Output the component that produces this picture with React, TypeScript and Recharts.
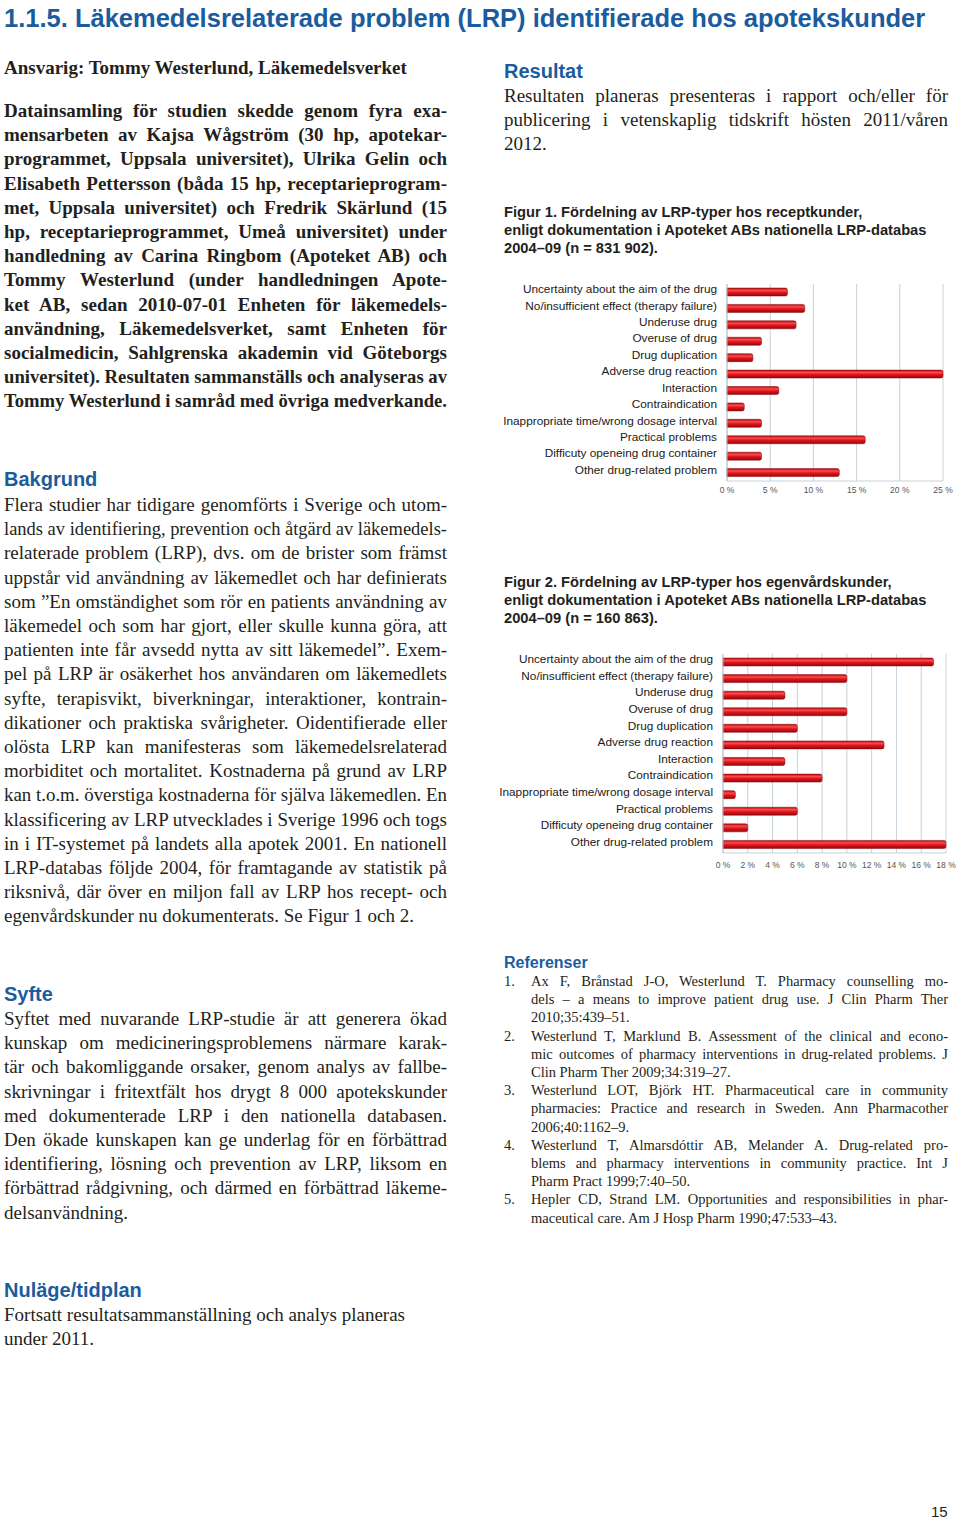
import React, { useLayoutEffect, useRef, useState } from "react";
import { BarChart, Bar, XAxis, YAxis, CartesianGrid } from "recharts";

const LRP_TYPES = [
  "Uncertainty about the aim of the drug",
  "No/insufficient effect (therapy failure)",
  "Underuse drug",
  "Overuse of drug",
  "Drug duplication",
  "Adverse drug reaction",
  "Interaction",
  "Contraindication",
  "Inappropriate time/wrong dosage interval",
  "Practical problems",
  "Difficuty openeing drug container",
  "Other drug-related problem",
];

// share of LRP, %
const RX_SHARES = [7, 9, 8, 4, 3, 25, 6, 2, 4, 16, 4, 13];
const OTC_SHARES = [17, 10, 5, 10, 6, 13, 5, 8, 1, 6, 2, 18];

const RX_TICKS = [0, 5, 10, 15, 20, 25];
const OTC_TICKS = [0, 2, 4, 6, 8, 10, 12, 14, 16, 18];

const TITLE = "1.1.5. Läkemedelsrelaterade problem (LRP) identifierade hos apotekskunder";
const RESPONSIBLE = "Ansvarig: Tommy Westerlund, Läkemedelsverket";

const DATA_LINES = [
  "Datainsamling för studien skedde genom fyra exa-",
  "mensarbeten av Kajsa Wågström (30 hp, apotekar-",
  "programmet, Uppsala universitet), Ulrika Gelin och",
  "Elisabeth Pettersson (båda 15 hp, receptarieprogram-",
  "met, Uppsala universitet) och Fredrik Skärlund (15",
  "hp, receptarieprogrammet, Umeå universitet) under",
  "handledning av Carina Ringbom (Apoteket AB) och",
  "Tommy Westerlund (under handledningen Apote-",
  "ket AB, sedan 2010-07-01 Enheten för läkemedels-",
  "användning, Läkemedelsverket, samt Enheten för",
  "socialmedicin, Sahlgrenska akademin vid Göteborgs",
  "universitet). Resultaten sammanställs och analyseras av",
  "Tommy Westerlund i samråd med övriga medverkande.",
];

const BAKGRUND_LINES = [
  "Flera studier har tidigare genomförts i Sverige och utom-",
  "lands av identifiering, prevention och åtgärd av läkemedels-",
  "relaterade problem (LRP), dvs. om de brister som främst",
  "uppstår vid användning av läkemedlet och har definierats",
  "som ”En omständighet som rör en patients användning av",
  "läkemedel och som har gjort, eller skulle kunna göra, att",
  "patienten inte får avsedd nytta av sitt läkemedel”. Exem-",
  "pel på LRP är osäkerhet hos användaren om läkemedlets",
  "syfte, terapisvikt, biverkningar, interaktioner, kontrain-",
  "dikationer och praktiska svårigheter. Oidentifierade eller",
  "olösta LRP kan manifesteras som läkemedelsrelaterad",
  "morbiditet och mortalitet. Kostnaderna på grund av LRP",
  "kan t.o.m. överstiga kostnaderna för själva läkemedlen. En",
  "klassificering av LRP utvecklades i Sverige 1996 och togs",
  "in i IT-systemet på landets alla apotek 2001. En nationell",
  "LRP-databas följde 2004, för framtagande av statistik på",
  "riksnivå, där över en miljon fall av LRP hos recept- och",
  "egenvårdskunder nu dokumenterats. Se Figur 1 och 2.",
];

const SYFTE_LINES = [
  "Syftet med nuvarande LRP-studie är att generera ökad",
  "kunskap om medicineringsproblemens närmare karak-",
  "tär och bakomliggande orsaker, genom analys av fallbe-",
  "skrivningar i fritextfält hos drygt 8 000 apotekskunder",
  "med dokumenterade LRP i den nationella databasen.",
  "Den ökade kunskapen kan ge underlag för en förbättrad",
  "identifiering, lösning och prevention av LRP, liksom en",
  "förbättrad rådgivning, och därmed en förbättrad läkeme-",
  "delsanvändning.",
];

const NULAGE_LINES = [
  "Fortsatt resultatsammanställning och analys planeras",
  "under 2011.",
];

const RESULTAT_LINES = [
  "Resultaten planeras presenteras i rapport och/eller för",
  "publicering i vetenskaplig tidskrift hösten 2011/våren",
  "2012.",
];

const FIG1_CAPTION = [
  "Figur 1. Fördelning av LRP-typer hos receptkunder,",
  "enligt dokumentation i Apoteket ABs nationella LRP-databas",
  "2004–09 (n = 831 902).",
];

const FIG2_CAPTION = [
  "Figur 2. Fördelning av LRP-typer hos egenvårdskunder,",
  "enligt dokumentation i Apoteket ABs nationella LRP-databas",
  "2004–09 (n = 160 863).",
];

const REFERENCES = [
  [
    "Ax F, Brånstad J-O, Westerlund T. Pharmacy counselling mo-",
    "dels – a means to improve patient drug use. J Clin Pharm Ther",
    "2010;35:439–51.",
  ],
  [
    "Westerlund T, Marklund B. Assessment of the clinical and econo-",
    "mic outcomes of pharmacy interventions in drug-related problems. J",
    "Clin Pharm Ther 2009;34:319–27.",
  ],
  [
    "Westerlund LOT, Björk HT. Pharmaceutical care in community",
    "pharmacies: Practice and research in Sweden. Ann Pharmacother",
    "2006;40:1162–9.",
  ],
  [
    "Westerlund T, Almarsdóttir AB, Melander A. Drug-related pro-",
    "blems and pharmacy interventions in community practice. Int J",
    "Pharm Pract 1999;7:40–50.",
  ],
  [
    "Hepler CD, Strand LM. Opportunities and responsibilities in phar-",
    "maceutical care. Am J Hosp Pharm 1990;47:533–43.",
  ],
];

const BLUE = "#1b5c9e";
const INK = "#231f20";
const SERIF = '"Liberation Serif", "DejaVu Serif", serif';
const SANS = '"Liberation Sans", Arial, sans-serif';
const BODY = 19;

// one typeset line: justified to the column, squeezed if it would overflow
function Line({ text, width, justify }: { text: string; width: number; justify: boolean }) {
  const ref = useRef<HTMLSpanElement>(null);
  const [scale, setScale] = useState<number | null>(null);

  useLayoutEffect(() => {
    if (!ref.current) return;
    const w = ref.current.getBoundingClientRect().width;
    setScale(w > width ? width / w : 1);
  }, [text, width]);

  if (scale === null) {
    return (
      <div>
        <span ref={ref} style={{ whiteSpace: "nowrap" }}>{text}</span>
      </div>
    );
  }
  if (scale < 1) {
    return (
      <div
        style={{
          whiteSpace: "nowrap",
          width: width / scale,
          transform: `scaleX(${scale})`,
          transformOrigin: "left center",
        }}
      >
        {text}
      </div>
    );
  }
  return (
    <div
      style={{
        whiteSpace: "nowrap",
        width,
        textAlign: justify ? "justify" : "left",
        textAlignLast: justify ? "justify" : "auto",
      }}
    >
      {text}
    </div>
  );
}

function Para({
  lines,
  left,
  top,
  width,
  size,
  lineHeight,
  bold = false,
  justifyLast = false,
  justify = true,
  font = SERIF,
}: {
  lines: string[];
  left: number;
  top: number;
  width: number;
  size: number;
  lineHeight: number;
  bold?: boolean;
  justifyLast?: boolean;
  justify?: boolean;
  font?: string;
}) {
  return (
    <div
      style={{
        position: "absolute",
        left,
        top,
        width,
        fontFamily: font,
        fontSize: size,
        lineHeight: `${lineHeight}px`,
        fontWeight: bold ? 700 : 400,
        color: INK,
      }}
    >
      {lines.map((l, i) => (
        <Line
          key={i}
          text={l}
          width={width}
          justify={justify && (i < lines.length - 1 || justifyLast)}
        />
      ))}
    </div>
  );
}

function Heading({ text, left, top, size }: { text: string; left: number; top: number; size: number }) {
  return (
    <div
      style={{
        position: "absolute",
        left,
        top,
        fontFamily: SANS,
        fontWeight: 700,
        fontSize: size,
        lineHeight: "24px",
        color: BLUE,
        whiteSpace: "nowrap",
      }}
    >
      {text}
    </div>
  );
}

function CategoryTick({ x, y, payload }: { x?: number; y?: number; payload?: { value: string } }) {
  return (
    <text
      x={x}
      y={y}
      dy={1}
      textAnchor="end"
      fontSize={11.8}
      fill="#1a1a1a"
      fontFamily={SANS}
    >
      {payload?.value}
    </text>
  );
}

function LrpChart({
  values,
  ticks,
  left,
  top,
  height,
  yWidth,
  rightPad,
  tickGap,
  gradId,
}: {
  values: number[];
  ticks: number[];
  left: number;
  top: number;
  height: number;
  yWidth: number;
  rightPad: number;
  tickGap: number;
  gradId: string;
}) {
  const data = LRP_TYPES.map((name, i) => ({ name, value: values[i] }));
  const max = ticks[ticks.length - 1];

  return (
    <div style={{ position: "absolute", left, top }}>
      <BarChart
        width={460}
        height={height}
        data={data}
        layout="vertical"
        margin={{ top: 8, right: rightPad, bottom: 0, left: 0 }}
        barCategoryGap={0}
      >
        <defs>
          <linearGradient id={gradId} x1="0" y1="0" x2="0" y2="1">
            <stop offset="0%" stopColor="#a80c12" />
            <stop offset="30%" stopColor="#ff4a4a" />
            <stop offset="55%" stopColor="#e3151d" />
            <stop offset="100%" stopColor="#8c0a0e" />
          </linearGradient>
        </defs>
        <CartesianGrid horizontal={false} stroke="#c6d2da" />
        <XAxis
          type="number"
          domain={[0, max]}
          ticks={ticks}
          interval={0}
          tickFormatter={(v: number) => `${v} %`}
          height={24}
          tickLine={false}
          tickSize={0}
          tickMargin={tickGap}
          axisLine={{ stroke: "#c6d2da" }}
          tick={{ fontSize: 8.5, fill: "#555", fontFamily: SANS }}
        />
        <YAxis
          type="category"
          dataKey="name"
          width={yWidth}
          interval={0}
          tickLine={false}
          tickSize={6}
          tickMargin={4}
          axisLine={{ stroke: "#b7c4cd" }}
          tick={<CategoryTick />}
        />
        <Bar
          dataKey="value"
          fill={`url(#${gradId})`}
          stroke="#8a0a0e"
          strokeWidth={0.5}
          barSize={8}
          radius={[0, 2, 2, 0]}
          isAnimationActive={false}
        />
      </BarChart>
    </div>
  );
}

export default function App() {
  return (
    <div
      style={{
        position: "absolute",
        left: 0,
        top: 0,
        width: 960,
        height: 1519,
        background: "#fff",
        overflow: "hidden",
      }}
    >
      <div
        style={{
          position: "absolute",
          left: 4,
          top: 3,
          fontFamily: SANS,
          fontWeight: 700,
          fontSize: 25.5,
          lineHeight: "30px",
          color: BLUE,
          whiteSpace: "nowrap",
        }}
      >
        {TITLE}
      </div>

      {/* left column */}
      <Para lines={[RESPONSIBLE]} left={4} top={56} width={443} size={BODY} lineHeight={24.2} bold justify={false} />
      <Para lines={DATA_LINES} left={4} top={99} width={443} size={BODY} lineHeight={24.2} bold justifyLast />

      <Heading text="Bakgrund" left={4} top={467} size={20} />
      <Para lines={BAKGRUND_LINES} left={4} top={493} width={443} size={BODY} lineHeight={24.2} />

      <Heading text="Syfte" left={4} top={982} size={20} />
      <Para lines={SYFTE_LINES} left={4} top={1007} width={443} size={BODY} lineHeight={24.2} />

      <Heading text="Nuläge/tidplan" left={4} top={1278} size={20} />
      <Para lines={NULAGE_LINES} left={4} top={1303} width={443} size={BODY} lineHeight={24.2} justify={false} />

      {/* right column */}
      <Heading text="Resultat" left={504} top={59} size={20} />
      <Para lines={RESULTAT_LINES} left={504} top={84} width={444} size={BODY} lineHeight={24.2} />

      <Para lines={FIG1_CAPTION} left={504} top={203} width={440} size={14.7} lineHeight={18} bold justify={false} font={SANS} />
      <LrpChart values={RX_SHARES} ticks={RX_TICKS} left={500} top={276} height={229} yWidth={227} rightPad={17} tickGap={6} gradId="rxGrad" />

      <Para lines={FIG2_CAPTION} left={504} top={573} width={440} size={14.7} lineHeight={18} bold justify={false} font={SANS} />
      <LrpChart values={OTC_SHARES} ticks={OTC_TICKS} left={500} top={646} height={231} yWidth={223} rightPad={14} tickGap={9} gradId="otcGrad" />

      <div
        style={{
          position: "absolute",
          left: 504,
          top: 954,
          fontFamily: SANS,
          fontWeight: 700,
          fontSize: 16,
          lineHeight: "18px",
          color: BLUE,
        }}
      >
        Referenser
      </div>
      {REFERENCES.map((ref, i) => {
        const top = 972 + REFERENCES.slice(0, i).reduce((n, r) => n + r.length, 0) * 18.2;
        return (
          <React.Fragment key={i}>
            <div
              style={{
                position: "absolute",
                left: 504,
                top,
                fontFamily: SERIF,
                fontSize: 14.5,
                lineHeight: "18.2px",
                color: INK,
              }}
            >
              {i + 1}.
            </div>
            <Para lines={ref} left={531} top={top} width={417} size={14.5} lineHeight={18.2} />
          </React.Fragment>
        );
      })}

      <div
        style={{
          position: "absolute",
          left: 931,
          top: 1503,
          fontFamily: SANS,
          fontSize: 15,
          lineHeight: "18px",
          color: INK,
        }}
      >
        15
      </div>
    </div>
  );
}
